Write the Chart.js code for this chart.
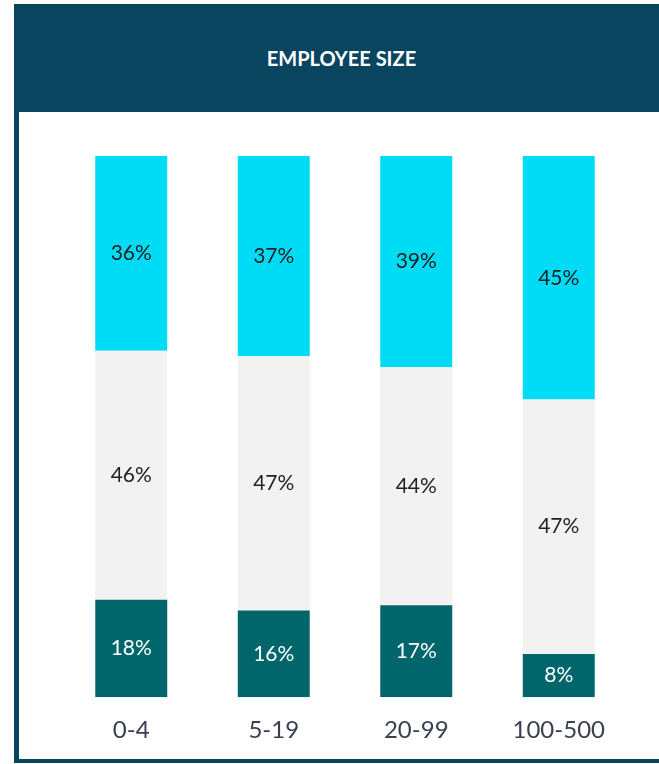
<!DOCTYPE html>
<html>
<head>
<meta charset="utf-8">
<script src="https://cdn.jsdelivr.net/npm/chart.js@4/dist/chart.umd.min.js"></script>
<style>
  html, body { margin: 0; padding: 0; background: #fff; }
  #wrap { position: relative; width: 659px; height: 764px; overflow: hidden; }
  #header {
    position: absolute; left: 14px; top: 4px; width: 645px; height: 108px;
    background: #0a4560; color: #fff;
    font: bold 20px Lato, "Open Sans", sans-serif;
    display: flex; align-items: center; justify-content: center;
    padding-left: 10px; box-sizing: border-box;
  }
  #leftBorder { position: absolute; left: 14px; top: 112px; width: 5px; height: 651px; background: #0a4560; z-index: 2; }
  #bottomBorder { position: absolute; left: 14px; top: 759px; width: 645px; height: 4px; background: #0a4560; z-index: 2; }
  #box { position: absolute; left: 19px; top: 112px; width: 640px; height: 665px; z-index: 1; }
</style>
</head>
<body>
<div id="wrap">
  <div id="header">EMPLOYEE SIZE</div>
  <div id="leftBorder"></div>
  <div id="bottomBorder"></div>
  <div id="box"><canvas id="chart"></canvas></div>
</div>
<script>
const categories = ['0-4', '5-19', '20-99', '100-500'];
const small = [18, 16, 17, 8];
const mid = [46, 47, 44, 47];
const large = [36, 37, 39, 45];

// percent labels in the middle of every segment
const segmentLabels = {
  id: 'segmentLabels',
  afterDatasetsDraw(chart) {
    const ctx = chart.ctx;
    ctx.save();
    ctx.font = '21px Lato, "Open Sans", sans-serif';
    ctx.textAlign = 'center';
    ctx.textBaseline = 'middle';
    chart.data.datasets.forEach((ds, i) => {
      chart.getDatasetMeta(i).data.forEach((bar, j) => {
        const y = (bar.y + bar.base) / 2;
        ctx.fillStyle = ds.labelColor;
        ctx.fillText(ds.data[j] + '%', bar.x, y);
      });
    });
    ctx.restore();
  }
};

new Chart(document.getElementById('chart'), {
  type: 'bar',
  data: {
    labels: categories,
    datasets: [
      { data: small, backgroundColor: '#00666b', labelColor: '#ffffff' },
      { data: mid, backgroundColor: '#f2f2f2', labelColor: '#222222' },
      { data: large, backgroundColor: '#00dcf5', labelColor: '#222222' }
    ]
  },
  options: {
    responsive: true,
    maintainAspectRatio: false,
    animation: false,
    categoryPercentage: 1,
    barPercentage: 0.505,
    layout: { padding: { left: 41, right: 29, top: 44, bottom: 13 } },
    plugins: { legend: { display: false }, tooltip: { enabled: false } },
    scales: {
      x: {
        stacked: true,
        grid: { display: false, drawTicks: false },
        border: { display: false },
        ticks: { color: '#3a4050', padding: 19, font: { family: 'Lato, "Open Sans", sans-serif', size: 24 } }
      },
      y: { stacked: true, display: false, min: 0, max: 100 }
    }
  },
  plugins: [segmentLabels]
});
</script>
</body>
</html>
